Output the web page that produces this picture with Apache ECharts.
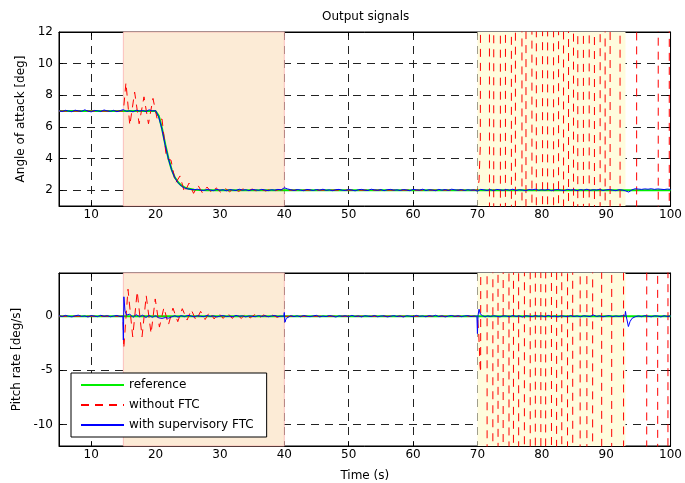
<!DOCTYPE html>
<html>
<head>
<meta charset="utf-8">
<script src="https://cdn.jsdelivr.net/npm/echarts@6/dist/echarts.min.js"></script>
<style>html,body{margin:0;padding:0;background:#fff}#c{width:685px;height:483px}</style>
</head>
<body>
<div id="c"></div>
<script>
// ---- data (time in s) ----
const xTicks = [10,20,30,40,50,60,70,80,90,100];
const aoaTicks = [2,4,6,8,10,12];
const qTicks = [-10,-5,0];
const faultWindow = [15,40];
const faultWindow2 = [70,93];
const seriesNames = ['reference','without FTC','with supervisory FTC'];

// Angle of attack: reference
const aoaRef = [[5,7],[20,7],[20.5,6.7],[21,5.9],[21.5,4.9],[22,4.0],[22.5,3.3],[23,2.8],[23.5,2.5],[24,2.3],[24.5,2.18],[25,2.1],[26,2.03],[27,2.01],[28,2],[100,2]];
// Pitch rate: reference
const qRef = [[5,0],[100,0]];

// Angle of attack: without FTC (diverges after 70 s, goes far off scale)
const aoaNoFtc = [[5,7],[15,7],[15.4,8.8],[16.0,6.1],[16.75,8.2],[17.45,6.2],[18.2,7.9],[18.9,6.2],[19.6,7.8],[20.3,6.4],[21.0,6.5],[21.7,4.0],[22.4,3.9],[23.1,2.45],[23.8,2.9],[24.5,1.85],[25.2,2.45],[25.9,1.8],[26.6,2.3],[27.3,1.82],[28.0,2.2],[28.7,1.85],[29.4,2.15],[30.1,1.88],[30.8,2.12],[31.5,1.9],[32.2,2.1],[32.9,1.92],[33.6,2.08],[34.3,1.93],[35.0,2.07],[35.7,1.94],[36.4,2.06],[37.1,1.95],[37.8,2.05],[38.5,1.96],[39.2,2.04],[40,2],[70,2],[70.25,2.6],[70.45,4.8],[70.6,60],
[71.85,60],[71.89,-60],[72.51,-60],[72.55,60],[73.55,60],[73.59,-60],[74.33,-60],[74.37,60],[75.26,60],[75.30,-60],[75.88,-60],[75.92,60],[76.90,60],[76.94,-60],[77.52,-60],[77.56,60],[78.45,60],[78.49,-60],[79.13,-60],[79.17,60],[80.10,60],[80.14,-60],[80.88,-60],[80.92,60],[81.81,60],[81.85,-60],[82.58,-60],[82.62,60],[83.36,60],[83.40,-60],[84.13,-60],[84.17,60],[84.91,60],[84.95,-60],[85.57,-60],[85.61,60],[86.45,60],[86.49,-60],[87.34,-60],[87.38,60],[88.16,60],[88.20,-60],[89.04,-60],[89.08,60],[89.82,60],[89.86,-60],[90.59,-60],[90.63,60],[92.14,60],[92.18,-60],[94.71,-60],[94.75,60],[98.07,60],[98.11,-60],[99.78,-60],[99.82,60],[100,60]];

// Pitch rate: without FTC
const qNoFtc = [[5,0],[14.95,0],[15.06,-2.97],[15.72,2.5],[16.45,-1.9],[17.15,2.3],[17.9,-1.9],[18.55,1.9],[19.3,-1.6],[19.95,1.6],[20.6,-1.0],[21.3,0.8],[22.0,-0.8],[22.7,0.75],[23.45,-0.5],[24.15,0.7],[24.9,-0.35],[25.55,0.6],[26.3,-0.4],[27.0,0.45],[27.7,-0.3],[28.4,0.4],[29.1,-0.25],[29.8,0.3],[30.5,-0.2],[31.2,0.3],[31.9,-0.2],[32.6,0.2],[33.3,-0.2],[34.0,0.2],[34.7,-0.15],[35.4,0.15],[36.1,-0.15],[36.8,0.12],[37.5,-0.12],[38.2,0.1],[38.9,-0.1],[39.6,0.08],[40,0],[70,0],[70.2,-1.5],[70.4,-4.5],[70.5,-5.2],[70.6,60],
[71.48,60],[71.52,-60],[72.38,-60],[72.42,60],[73.18,60],[73.22,-60],[73.98,-60],[74.02,60],[74.88,60],[74.92,-60],[75.58,-60],[75.62,60],[76.38,60],[76.42,-60],[77.28,-60],[77.32,60],[78.18,60],[78.22,-60],[78.98,-60],[79.02,60],[79.83,60],[79.87,-60],[80.58,-60],[80.62,60],[81.48,60],[81.52,-60],[82.28,-60],[82.32,60],[83.08,60],[83.12,-60],[83.98,-60],[84.02,60],[84.78,60],[84.82,-60],[85.94,-60],[85.98,60],[86.98,60],[87.02,-60],[87.88,-60],[87.92,60],[89.28,60],[89.32,-60],[90.84,-60],[90.88,60],[92.68,60],[92.72,-60],[96.28,-60],[96.32,60],[97.98,60],[98.02,-60],[99.58,-60],[99.62,60],[100,60]];

// Angle of attack: with supervisory FTC
const aoaFtc = [[5,7.02],[5.5,6.97],[6,7.05],[6.5,7.00],[7,6.96],[7.5,7.06],[8,7.01],[8.5,6.98],[9,7.08],[9.5,7.00],
[10,6.95],[10.5,7.04],[11,7.02],[11.5,6.97],[12,7.07],[12.5,7.01],[13,6.98],[13.5,7.05],[14,6.96],[14.5,7.03],
[15,7.09],[15.5,6.98],[16,7.02],[16.5,6.95],[17,7.06],[17.5,7.00],[18,7.04],[18.5,6.97],[19,7.08],[19.5,7.01],[20,7.03],
[20.5,6.62],[21,5.85],[21.5,4.85],[22,3.98],[22.5,3.28],[23,2.78],[23.5,2.47],[24,2.26],[24.5,2.14],[25,2.08],[25.5,2.05],[26,2.03],[26.5,2.06],[27,2.00],
[27.5,1.98],[28,2.04],[28.5,2.01],[29,1.97],[29.5,2.05],[30,2.00],[30.5,2.03],[31,1.96],[31.5,2.04],[32,2.01],
[32.5,1.98],[33,2.06],[33.5,2.00],[34,2.03],[34.5,1.97],[35,2.04],[35.5,2.02],[36,1.99],[36.5,2.05],[37,2.01],
[37.5,1.97],[38,2.03],[38.5,2.00],[39,2.05],[39.5,2.02],[40,2.15],[40.5,2.08],[41,2.03],[41.5,1.98],[42,2.04],
[42.5,2.01],[43,1.97],[43.5,2.05],[44,2.02],[44.5,1.98],[45,2.04],[45.5,2.00],[46,2.06],[46.5,1.99],[47,2.02],
[47.5,1.97],[48,2.03],[48.5,2.05],[49,2.00],[49.5,1.98],[50,2.04],[50.5,2.01],[51,1.96],[51.5,2.03],[52,2.05],
[52.5,2.00],[53,1.98],[53.5,2.06],[54,2.02],[54.5,1.99],[55,2.04],[55.5,1.97],[56,2.03],[56.5,2.05],[57,2.00],
[57.5,2.02],[58,1.98],[58.5,2.04],[59,2.01],[59.5,1.97],[60,2.05],[60.5,2.02],[61,2.00],[61.5,2.06],[62,1.98],
[62.5,2.03],[63,2.01],[63.5,1.97],[64,2.05],[64.5,2.00],[65,2.04],[65.5,1.98],[66,2.06],[66.5,2.02],[67,2.00],
[67.5,2.04],[68,1.98],[68.5,2.03],[69,2.00],[69.5,2.02],[70,1.94],[70.5,2.05],[71,2.02],[71.5,1.98],[72,2.04],
[72.5,1.97],[73,2.05],[73.5,2.02],[74,1.99],[74.5,2.04],[75,2.00],[75.5,2.06],[76,1.98],[76.5,2.03],[77,2.01],
[77.5,1.97],[78,2.04],[78.5,2.02],[79,2.06],[79.5,1.99],[80,2.03],[80.5,2.00],[81,2.05],[81.5,1.97],[82,2.02],
[82.5,2.04],[83,2.00],[83.5,1.98],[84,2.05],[84.5,2.01],[85,2.03],[85.5,1.97],[86,2.04],[86.5,2.00],[87,2.06],
[87.5,1.99],[88,2.03],[88.5,2.01],[89,2.05],[89.5,1.98],[90,2.02],[90.5,2.04],[91,2.00],[91.5,1.97],[92,2.03],
[92.5,2.01],[93,1.96],[93.5,1.88],[94,2.02],[94.5,2.09],[95,2.07],[95.5,2.05],[96,2.08],[96.5,2.06],[97,2.09],
[97.5,2.05],[98,2.08],[98.5,2.06],[99,2.04],[99.5,2.07],[100,2.05]];

// Pitch rate: with supervisory FTC
const qFtc = [[5,0.05],[5.5,-0.03],[6,0.08],[6.5,0.0],[7,-0.06],[7.5,0.04],[8,0.1],[8.5,-0.02],[9,0.03],[9.5,-0.07],[10,0.06],[10.5,0.01],[11,-0.04],[11.5,0.09],[12,-0.01],[12.5,0.05],[13,-0.05],[13.5,0.02],[14,0.07],[14.5,-0.03],
[14.92,0.0],[15.0,-2.2],[15.08,1.8],[15.25,0.5],[15.5,0.1],[16,0.2],[16.5,-0.1],[17,0.15],[17.5,-0.05],[18,0.1],[18.5,-0.12],[19,0.08],[19.5,-0.1],[20,0.05],[20.5,-0.15],[21,-0.2],[21.5,-0.12],[22,-0.18],[22.5,-0.06],[23,0.05],[23.5,-0.08],[24,0.06],[24.5,-0.04],[25,0.08],
[25.5,0.03],[26,-0.06],[26.5,0.05],[27,0.0],[27.5,-0.04],[28,0.07],[28.5,-0.02],[29,0.04],[29.5,-0.07],[30,0.02],[30.5,0.06],[31,-0.03],[31.5,0.01],[32,-0.05],[32.5,0.08],[33,-0.01],[33.5,0.04],[34,-0.06],[34.5,0.03],[35,0.0],[35.5,-0.04],[36,0.06],[36.5,-0.02],[37,0.05],[37.5,-0.05],[38,0.02],[38.5,0.07],[39,-0.03],[39.5,0.01],
[39.92,0.0],[40.0,0.35],[40.1,-0.55],[40.3,-0.2],[40.6,-0.05],[41,0.05],[41.5,-0.03],
[42,0.04],[42.5,-0.05],[43,0.07],[43.5,0.0],[44,-0.04],[44.5,0.03],[45,0.08],[45.5,-0.06],[46,0.02],[46.5,-0.03],[47,0.06],[47.5,0.01],[48,-0.07],[48.5,0.04],[49,0.0],[49.5,0.05],[50,-0.04],[50.5,0.08],[51,-0.02],[51.5,0.03],[52,-0.06],[52.5,0.05],[53,0.01],[53.5,-0.03],[54,0.07],[54.5,-0.05],[55,0.02],[55.5,0.04],[56,-0.06],[56.5,0.0],[57,0.06],[57.5,-0.02],[58,0.03],[58.5,-0.07],[59,0.05],[59.5,0.01],[60,-0.04],[60.5,0.08],[61,-0.01],[61.5,0.03],[62,-0.05],[62.5,0.06],[63,0.0],[63.5,0.09],[64,-0.03],[64.5,0.04],[65,-0.06],[65.5,0.02],[66,0.07],[66.5,-0.02],[67,0.05],[67.5,-0.04],[68,0.03],[68.5,0.06],[69,-0.03],[69.5,0.02],
[69.92,0.0],[70.0,-1.6],[70.1,0.1],[70.25,0.65],[70.45,0.2],[70.8,0.05],[71.2,-0.06],[71.6,0.04],
[72,-0.03],[72.5,0.05],[73,0.0],[73.5,-0.06],[74,0.04],[74.5,0.02],[75,-0.05],[75.5,0.07],[76,-0.02],[76.5,0.03],[77,-0.07],[77.5,0.05],[78,0.01],[78.5,-0.04],[79,0.06],[79.5,-0.01],[80,0.03],[80.5,-0.05],[81,0.08],[81.5,-0.03],[82,0.02],[82.5,-0.06],[83,0.04],[83.5,0.0],[84,-0.04],[84.5,0.06],[85,-0.02],[85.5,0.03],[86,-0.06],[86.5,0.05],[87,0.01],[87.5,-0.03],[88,0.12],[88.5,-0.02],[89,0.04],[89.5,-0.05],[90,0.02],[90.5,0.06],[91,-0.04],[91.5,0.03],[92,-0.02],[92.5,0.05],
[92.92,0.02],[93.0,0.45],[93.1,0.05],[93.45,-0.95],[93.7,-0.5],[94.0,-0.2],[94.5,-0.05],
[95,0.03],[95.5,-0.04],[96,0.06],[96.5,0.0],[97,-0.05],[97.5,0.04],[98,0.02],[98.5,-0.06],[99,0.05],[99.5,-0.02],[100,0.03]];

// ---- chart ----
const FONT = 'DejaVu Sans';
const TXT = {fontFamily: FONT, fontSize: 12, color: '#000'};
const GRIDLINE = {show: true, lineStyle: {color: '#222', width: 1, type: [8, 6]}};
const PEACH = '#FCEBD6', YELLOW = '#FFFCDD';

function xAx(grid, showLabel, name) {
  return {
    type: 'value', gridIndex: grid, min: 5, max: 100, position: 'bottom',
    axisLine: {show: true, onZero: false, lineStyle: {color: '#000', width: 1}},
    axisTick: {show: true, inside: true, length: 4, customValues: xTicks, lineStyle: {color: '#000'}},
    axisLabel: {show: showLabel, customValues: xTicks, margin: 3, ...TXT},
    splitLine: GRIDLINE,
    name: name || '', nameLocation: 'middle', nameGap: 24, nameTextStyle: TXT
  };
}
function xAxTop(grid) {
  return {
    type: 'value', gridIndex: grid, min: 5, max: 100, position: 'top',
    axisLine: {show: true, onZero: false, lineStyle: {color: '#000'}},
    axisTick: {show: true, inside: true, length: 4, customValues: xTicks, lineStyle: {color: '#000'}},
    axisLabel: {show: false}, splitLine: {show: false}
  };
}
function yAx(grid, min, max, ticks, name, gap) {
  return {
    type: 'value', gridIndex: grid, min: min, max: max, position: 'left',
    axisLine: {show: true, onZero: false, lineStyle: {color: '#000'}},
    axisTick: {show: true, inside: true, length: 4, customValues: ticks, lineStyle: {color: '#000'}},
    axisLabel: {customValues: ticks, margin: 6, ...TXT},
    splitLine: GRIDLINE,
    name: name, nameLocation: 'middle', nameGap: gap, nameTextStyle: TXT
  };
}
function yAxRight(grid, min, max, ticks) {
  return {
    type: 'value', gridIndex: grid, min: min, max: max, position: 'right',
    axisLine: {show: true, onZero: false, lineStyle: {color: '#000'}},
    axisTick: {show: true, inside: true, length: 4, customValues: ticks, lineStyle: {color: '#000'}},
    axisLabel: {show: false}, splitLine: {show: false}
  };
}
function shade(xi, yi) {
  return {
    type: 'line', xAxisIndex: xi, yAxisIndex: yi, data: [], z: -1, silent: true,
    markArea: {silent: true, data: [
      [{xAxis: faultWindow[0], itemStyle: {color: PEACH, borderColor: 'rgba(250,170,170,0.7)', borderWidth: 1}}, {xAxis: faultWindow[1]}],
      [{xAxis: faultWindow2[0], itemStyle: {color: YELLOW, borderWidth: 0}}, {xAxis: faultWindow2[1]}]
    ]}
  };
}
function ln(name, data, xi, yi, color, width, type) {
  return {
    name: name, type: 'line', data: data, xAxisIndex: xi, yAxisIndex: yi,
    showSymbol: false, symbol: 'none', clip: true,
    lineStyle: {color: color, width: width, type: type}, itemStyle: {color: color}
  };
}

const chart = echarts.init(document.getElementById('c'), null, {renderer: 'canvas'});
chart.setOption({
  animation: false,
  backgroundColor: '#fff',
  textStyle: {fontFamily: FONT},
  title: {text: 'Output signals', left: 322, top: 11, padding: 0, textStyle: {...TXT, fontWeight: 'normal'}},
  legend: {
    data: seriesNames, orient: 'vertical', left: 71, top: 373,
    padding: [6, 13, 6, 9], itemWidth: 43, itemHeight: 14, itemGap: 8,
    backgroundColor: '#fff', borderColor: '#000', borderWidth: 1, borderRadius: 0,
    itemStyle: {opacity: 0},
    textStyle: TXT
  },
  grid: [
    {left: 59, right: 13, top: 32, height: 174, show: true, borderColor: '#000', borderWidth: 1, backgroundColor: 'transparent'},
    {left: 59, right: 13, top: 273, height: 174, show: true, borderColor: '#000', borderWidth: 1, backgroundColor: 'transparent'}
  ],
  xAxis: [xAx(0, true), xAx(1, true, 'Time (s)'), xAxTop(0), xAxTop(1)],
  yAxis: [yAx(0, 1, 12, aoaTicks, 'Angle of attack [deg]', 29), yAx(1, -12, 4, qTicks, 'Pitch rate [deg/s]', 29),
          yAxRight(0, 1, 12, aoaTicks), yAxRight(1, -12, 4, qTicks)],
  series: [
    shade(0, 0), shade(1, 1),
    ln(seriesNames[0], aoaRef, 0, 0, '#00ee00', 2, 'solid'),
    ln(seriesNames[1], aoaNoFtc, 0, 0, '#ff0000', 1, [8, 6]),
    ln(seriesNames[2], aoaFtc, 0, 0, '#0000ff', 1, 'solid'),
    ln(seriesNames[0], qRef, 1, 1, '#00ee00', 2, 'solid'),
    ln(seriesNames[1], qNoFtc, 1, 1, '#ff0000', 1, [8, 6]),
    ln(seriesNames[2], qFtc, 1, 1, '#0000ff', 1, 'solid')
  ]
});
</script>
</body>
</html>
